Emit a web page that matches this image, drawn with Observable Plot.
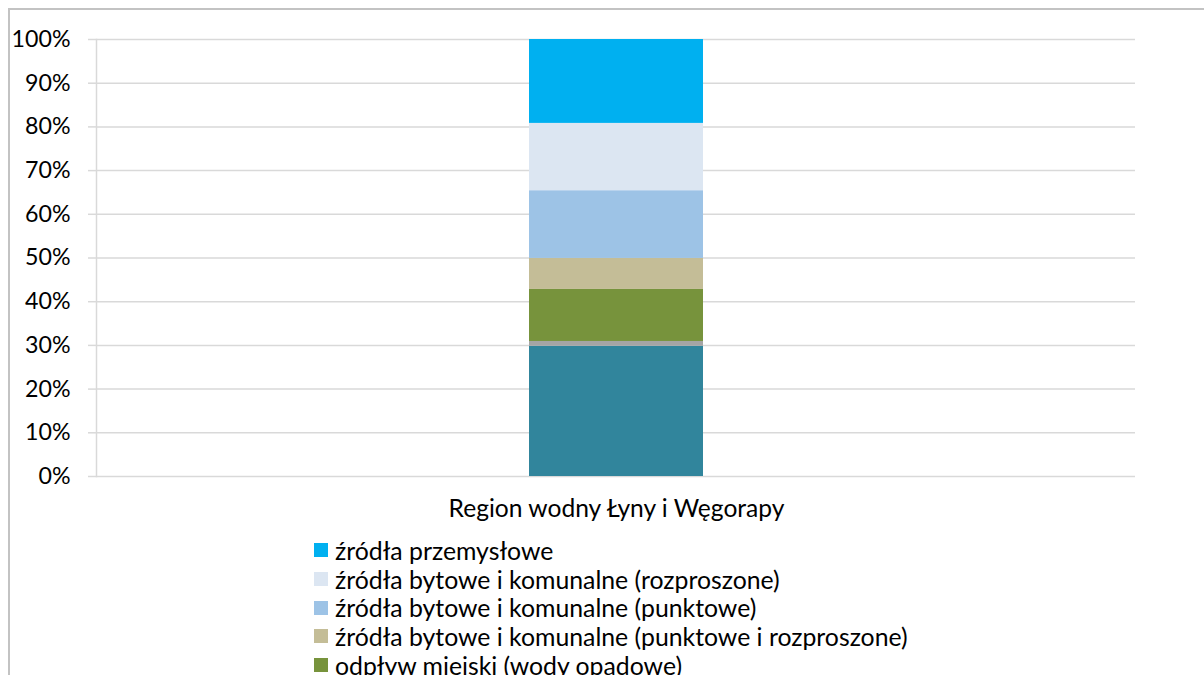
<!DOCTYPE html>
<html><head><meta charset="utf-8">
<script src="https://cdn.jsdelivr.net/npm/d3@7"></script>
<script src="https://cdn.jsdelivr.net/npm/@observablehq/plot@0.6"></script>
<style>
html,body{margin:0;padding:0;background:#fff;width:1204px;height:675px;overflow:hidden;font-family:Lato,"Open Sans",sans-serif;}
#chart svg{display:block}
#frame{position:absolute;left:8px;top:8px;width:1400px;height:900px;border-left:2px solid #c3c3c3;border-top:2px solid #c3c3c3;pointer-events:none}
#legend{padding-left:314px;margin-top:6px;font-size:24.8px;color:#000}
.row{display:flex;align-items:center;height:28.7px;white-space:nowrap}
.sw{width:14px;height:14px;margin-right:7px;flex:none}
</style></head><body>
<div id="chart"></div>
<div id="legend"></div>
<div id="frame"></div>
<script>
// category
const regions = ["Region wodny Łyny i Węgorapy"];
// series, bottom to top of the stack
const sources = [
  "rolnictwo",
  "hodowla ryb",
  "odpływ miejski (wody opadowe)",
  "źródła bytowe i komunalne (punktowe i rozproszone)",
  "źródła bytowe i komunalne (punktowe)",
  "źródła bytowe i komunalne (rozproszone)",
  "źródła przemysłowe"
];
const shares = [29.8, 1.1, 11.9, 7.1, 15.5, 15.4, 19.2]; // percent
const colors = ["#31859c", "#a5a5a5", "#77933c", "#c4bd97", "#9dc3e6", "#dce6f2", "#00b0f0"];
const yTicks = [0, 0.1, 0.2, 0.3, 0.4, 0.5, 0.6, 0.7, 0.8, 0.9, 1];
// legend rows visible in the reference (top of the legend list)
const legendShown = 5;

const data = sources.map((s, i) => ({region: regions[0], source: s, share: shares[i] / 100}));

const plot = Plot.plot({
  width: 1204,
  height: 530,
  marginLeft: 96,
  marginRight: 69,
  marginTop: 39,
  marginBottom: 54,
  style: {fontFamily: "Lato, 'Open Sans', sans-serif", fontSize: "22px", color: "#000", background: "#fff"},
  x: {domain: regions, padding: 0.713, label: null},
  y: {domain: [0, 1], label: null},
  color: {domain: sources, range: colors},
  marks: [
    Plot.gridY(yTicks, {stroke: "#d9d9d9", strokeOpacity: 1, strokeWidth: 1.5}),
    Plot.frame({anchor: "left", stroke: "#d9d9d9", strokeWidth: 1.5}),
    Plot.axisY(yTicks, {tickFormat: d3.format(".0%"), tickSize: 8, tickPadding: 18, stroke: "#d9d9d9", strokeWidth: 1.5, strokeOpacity: 1, fill: "#000", fontSize: 23.2, label: null}),
    Plot.barY(data, {x: "region", y: "share", fill: "source"}),
    Plot.axisX({tickSize: 0, tickPadding: 23, fontSize: 24.6, fill: "#000", label: null})
  ]
});
document.getElementById("chart").appendChild(plot);

const legend = document.getElementById("legend");
for (let i = sources.length - 1; i >= sources.length - legendShown; i--) {
  const row = document.createElement("div");
  row.className = "row";
  const sw = document.createElement("span");
  sw.className = "sw";
  sw.style.background = colors[i];
  const t = document.createElement("span");
  t.textContent = sources[i];
  row.appendChild(sw);
  row.appendChild(t);
  legend.appendChild(row);
}
</script>
</body></html>
